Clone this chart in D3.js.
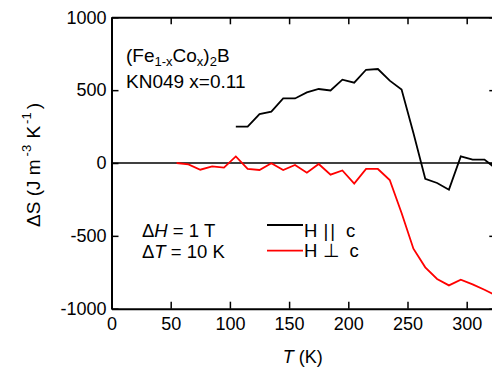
<!DOCTYPE html>
<html>
<head>
<meta charset="utf-8">
<script src="https://cdn.jsdelivr.net/npm/d3@7"></script>
<style>
  body { margin: 0; background: #fff; }
  text { font-family: Arial, "Liberation Sans", sans-serif; }
</style>
</head>
<body>
<div id="chart"></div>
<script>
// temperatures (K) and entropy change values
const tempPar = [105, 115, 125, 135, 145, 155, 165, 175, 185, 195, 205, 215, 225, 235, 245, 255, 265, 275, 285, 295, 305, 315, 325];
const dsPar = [249, 249, 336, 352, 443, 443, 485, 508, 498, 572, 551, 640, 645, 565, 505, 206, -108, -137, -183, 45, 23, 23, -40];

const tempPerp = [55, 65, 75, 85, 95, 105, 115, 125, 135, 145, 155, 165, 175, 185, 195, 205, 215, 225, 235, 245, 255, 265, 275, 285, 295, 305, 315, 325];
const dsPerp = [0, -9, -46, -23, -32, 45, -41, -48, -2, -48, -14, -67, -7, -80, -51, -142, -41, -41, -117, -343, -588, -716, -796, -840, -801, -833, -870, -910];

const xTicks = [0, 50, 100, 150, 200, 250, 300];
const yTicks = [-1000, -500, 0, 500, 1000];

const width = 492;
const height = 369;
const marginLeft = 111.5;
const marginTop = 17.3;
const plotBottom = 308.7;
const xMax = 325;
const pxPerK = 1.184;

const x = d3.scaleLinear().domain([0, xMax]).range([marginLeft, marginLeft + xMax * pxPerK]);
const y = d3.scaleLinear().domain([-1000, 1000]).range([plotBottom, marginTop]);

const svg = d3.select("#chart").append("svg")
    .attr("width", width)
    .attr("height", height);

//clip the data to the plot frame
svg.append("clipPath").attr("id", "clip")
    .append("rect")
    .attr("x", x(0)).attr("y", y(1000))
    .attr("width", x(xMax) - x(0)).attr("height", y(-1000) - y(1000));

const plot = svg.append("g").attr("clip-path", "url(#clip)");

//zero line
plot.append("line")
    .attr("x1", x(0)).attr("x2", x(xMax))
    .attr("y1", y(0)).attr("y2", y(0))
    .attr("stroke", "#000").attr("stroke-width", 1.6);

const line = d3.line().x(d => x(d[0])).y(d => y(d[1]));

plot.append("path")
    .datum(tempPar.map((t, i) => [t, dsPar[i]]))
    .attr("fill", "none").attr("stroke", "#000").attr("stroke-width", 1.8)
    .attr("d", line);

plot.append("path")
    .datum(tempPerp.map((t, i) => [t, dsPerp[i]]))
    .attr("fill", "none").attr("stroke", "#ff0000").attr("stroke-width", 1.8)
    .attr("d", line);

//axes, ticks pointing inward on all four sides
const tickLen = 7;
const fontSize = 18;
const plain = d => String(d);

svg.append("g")
    .attr("transform", `translate(0,${plotBottom})`)
    .call(d3.axisBottom(x).tickValues(xTicks).tickFormat(plain).tickSizeInner(-tickLen).tickSizeOuter(0).tickPadding(9))
    .call(g => g.selectAll("text").attr("font-size", fontSize).attr("fill", "#000").attr("font-family", null));

svg.append("g")
    .attr("transform", `translate(0,${marginTop})`)
    .call(d3.axisTop(x).tickValues(xTicks).tickSizeInner(-tickLen).tickSizeOuter(0).tickFormat(""));

svg.append("g")
    .attr("transform", `translate(${marginLeft},0)`)
    .call(d3.axisLeft(y).tickValues(yTicks).tickFormat(plain).tickSizeInner(-tickLen).tickSizeOuter(0).tickPadding(5))
    .call(g => g.selectAll("text").attr("font-size", fontSize).attr("fill", "#000").attr("font-family", null));

svg.append("g")
    .attr("transform", `translate(${x(xMax)},0)`)
    .call(d3.axisRight(y).tickValues(yTicks).tickSizeInner(-tickLen).tickSizeOuter(0).tickFormat(""));

svg.selectAll(".domain").attr("stroke-width", 2);
svg.selectAll(".tick line").attr("stroke-width", 1.5);

//axis titles
const xTitle = svg.append("text")
    .attr("x", (marginLeft + width) / 2 + 1)
    .attr("y", 363)
    .attr("text-anchor", "middle")
    .attr("font-size", fontSize);
xTitle.append("tspan").attr("font-style", "italic").text("T");
xTitle.append("tspan").text(" (K)");

const yTitle = svg.append("text")
    .attr("transform", `translate(40,${(marginTop + plotBottom) / 2 + 2})rotate(-90)`)
    .attr("text-anchor", "middle")
    .attr("font-size", 19);
yTitle.append("tspan").text("ΔS (J m");
yTitle.append("tspan").attr("font-size", 13).attr("dx", 3).attr("dy", -9).text("-3");
yTitle.append("tspan").attr("dx", 1).attr("dy", 9).text(" K");
yTitle.append("tspan").attr("font-size", 13).attr("dx", 2).attr("dy", -9).text("-1");
yTitle.append("tspan").attr("dx", 3).attr("dy", 9).text(")");

//sample annotation
const annSize = 19;
const title = svg.append("text")
    .attr("x", 126).attr("y", 62)
    .attr("font-size", annSize);
title.append("tspan").text("(Fe");
title.append("tspan").attr("font-size", 13).attr("dy", 4).text("1-x");
title.append("tspan").attr("dy", -4).text("Co");
title.append("tspan").attr("font-size", 13).attr("dy", 4).text("x");
title.append("tspan").attr("dy", -4).text(")");
title.append("tspan").attr("font-size", 13).attr("dy", 4).text("2");
title.append("tspan").attr("dy", -4).text("B");

svg.append("text")
    .attr("x", 126).attr("y", 88)
    .attr("font-size", annSize)
    .text("KN049 x=0.11");

//field and temperature step
const conditions = [["H", " = 1 T"], ["T", " = 10 K"]];
conditions.forEach(([v, rest], i) => {
    const t = svg.append("text")
        .attr("x", 142).attr("y", 237 + i * 20.5)
        .attr("font-size", 18.5);
    t.append("tspan").text("Δ");
    t.append("tspan").attr("font-style", "italic").text(v);
    t.append("tspan").text(rest);
});

//legend
const legend = [["H", "||", "c", "#000", 225, 237], ["H", "\u22A5", "c", "#ff0000", 250.7, 257]];
legend.forEach(([a, sym, c, color, ly, ty]) => {
    svg.append("line")
        .attr("x1", 267).attr("x2", 303)
        .attr("y1", ly).attr("y2", ly)
        .attr("stroke", color).attr("stroke-width", 1.8);
    const t = svg.append("text")
        .attr("x", 304).attr("y", ty)
        .attr("font-size", 18.5);
    t.append("tspan").text(a);
    t.append("tspan").attr("dx", 6).attr("letter-spacing", sym === "||" ? 2 : 0).text(sym);
    t.append("tspan").attr("dx", 9).text(c);
});
</script>
</body>
</html>
